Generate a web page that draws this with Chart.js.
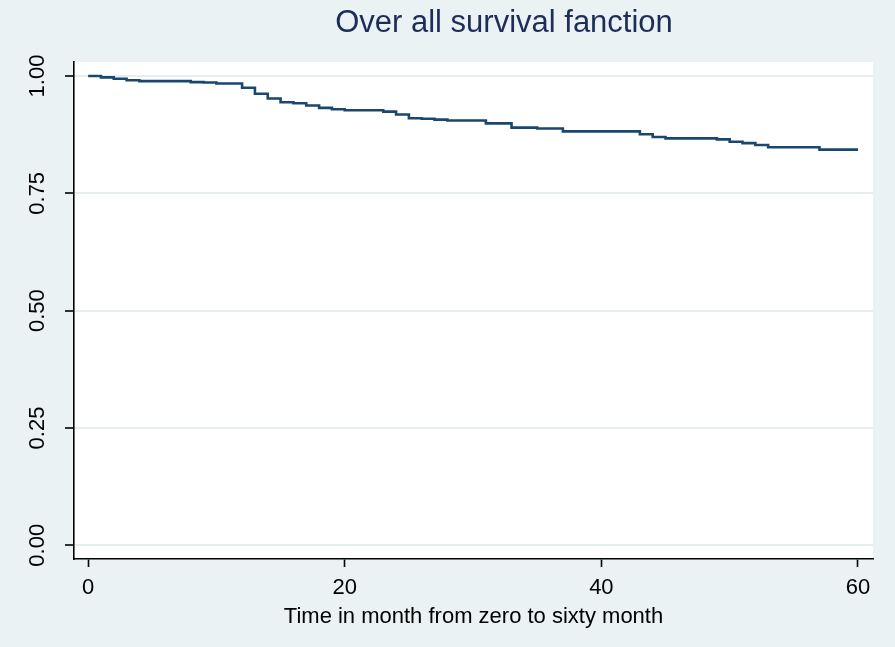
<!DOCTYPE html>
<html>
<head>
<meta charset="utf-8">
<script src="https://cdn.jsdelivr.net/npm/chart.js@4/dist/chart.umd.min.js"></script>
<style>
  html, body { margin: 0; padding: 0; background: #eaf2f3; }
  #wrap { width: 895px; height: 647px; }
</style>
</head>
<body>
<div id="wrap"><canvas id="chart" width="895" height="647"></canvas></div>
<script>
// KM estimate (month, survival)
let months = [0, 1, 2, 3, 4, 8, 9, 10, 12, 13, 14, 15, 16, 17, 18, 19, 20, 23, 24, 25, 26, 27, 28, 31, 33, 35, 37, 43, 44, 45, 49, 50, 51, 52, 53, 57, 60];
let survival = [1.0, 0.997, 0.994, 0.991, 0.989, 0.987, 0.986, 0.984, 0.975, 0.962, 0.952, 0.944, 0.942, 0.937, 0.932, 0.929, 0.927, 0.924, 0.918, 0.91, 0.909, 0.907, 0.905, 0.899, 0.89, 0.888, 0.882, 0.876, 0.87, 0.867, 0.865, 0.86, 0.857, 0.853, 0.848, 0.843, 0.843];
let xTicks = [0, 20, 40, 60];
let yTicks = [0, 0.25, 0.5, 0.75, 1];
let yTickLabels = ["0.00", "0.25", "0.50", "0.75", "1.00"];
let titleText = "Over all survival fanction";
let xTitleText = "Time in month from zero to sixty month";

let font = "'Liberation Sans', Arial, Helvetica, sans-serif";

let points = months.map((m, i) => ({ x: m, y: survival[i] }));

// background + white plot region
let backdrop = {
  id: "backdrop",
  beforeDraw(c) {
    let ctx = c.ctx;
    let a = c.chartArea;
    ctx.save();
    ctx.fillStyle = "#eaf2f3";
    ctx.fillRect(0, 0, c.width, c.height);
    ctx.fillStyle = "#ffffff";
    ctx.fillRect(a.left, a.top, a.right - a.left, a.bottom - a.top);
    ctx.restore();
  },
};

// rotated y labels, title and x axis title
let texts = {
  id: "texts",
  afterDraw(c) {
    let ctx = c.ctx;
    let a = c.chartArea;
    let y = c.scales.y;
    ctx.save();
    ctx.fillStyle = "#000";
    ctx.font = "22px " + font;
    ctx.textAlign = "center";
    ctx.textBaseline = "alphabetic";
    yTicks.forEach((v, i) => {
      ctx.save();
      ctx.translate(44, y.getPixelForValue(v));
      ctx.rotate(-Math.PI / 2);
      ctx.fillText(yTickLabels[i], 0, 0);
      ctx.restore();
    });
    ctx.fillText(xTitleText, (a.left + a.right) / 2, 623);
    ctx.fillStyle = "#1e2c5a";
    ctx.font = "31px " + font;
    ctx.fillText(titleText, 504, 32);
    ctx.restore();
  },
};

let chart = new Chart(document.getElementById("chart").getContext("2d"), {
  type: "line",
  data: {
    datasets: [
      {
        label: "survival",
        data: points,
        stepped: true,
        borderColor: "#1a476f",
        borderWidth: 2.6,
        pointRadius: 0,
        fill: false,
      },
    ],
  },
  options: {
    responsive: false,
    animation: false,
    layout: { padding: { top: 62, right: 22, left: 0, bottom: 0 } },
    plugins: {
      legend: { display: false },
      tooltip: { enabled: false },
      title: { display: false },
    },
    scales: {
      x: {
        type: "linear",
        min: -1.1,
        max: 61.17,
        afterBuildTicks: (s) => {
          s.ticks = xTicks.map((v) => ({ value: v }));
        },
        afterFit: (s) => {
          s.height = 88;
        },
        border: { display: true, color: "#000", width: 1.6 },
        grid: {
          drawOnChartArea: false,
          tickLength: 8,
          tickColor: "#000",
          tickWidth: 1.6,
        },
        ticks: {
          color: "#000",
          font: { size: 22, family: font },
          padding: 8,
          maxRotation: 0,
          callback: (v) => v,
        },
      },
      y: {
        type: "linear",
        min: -0.0292,
        max: 1.0298,
        afterBuildTicks: (s) => {
          s.ticks = yTicks.map((v) => ({ value: v }));
        },
        afterFit: (s) => {
          s.width = 74;
        },
        border: { display: true, color: "#000", width: 1.6 },
        grid: {
          color: "#e6eef0",
          lineWidth: 2,
          tickLength: 9,
          tickColor: "#000",
          tickWidth: 1.6,
        },
        ticks: { display: false },
      },
    },
  },
  plugins: [backdrop, texts],
});
</script>
</body>
</html>
